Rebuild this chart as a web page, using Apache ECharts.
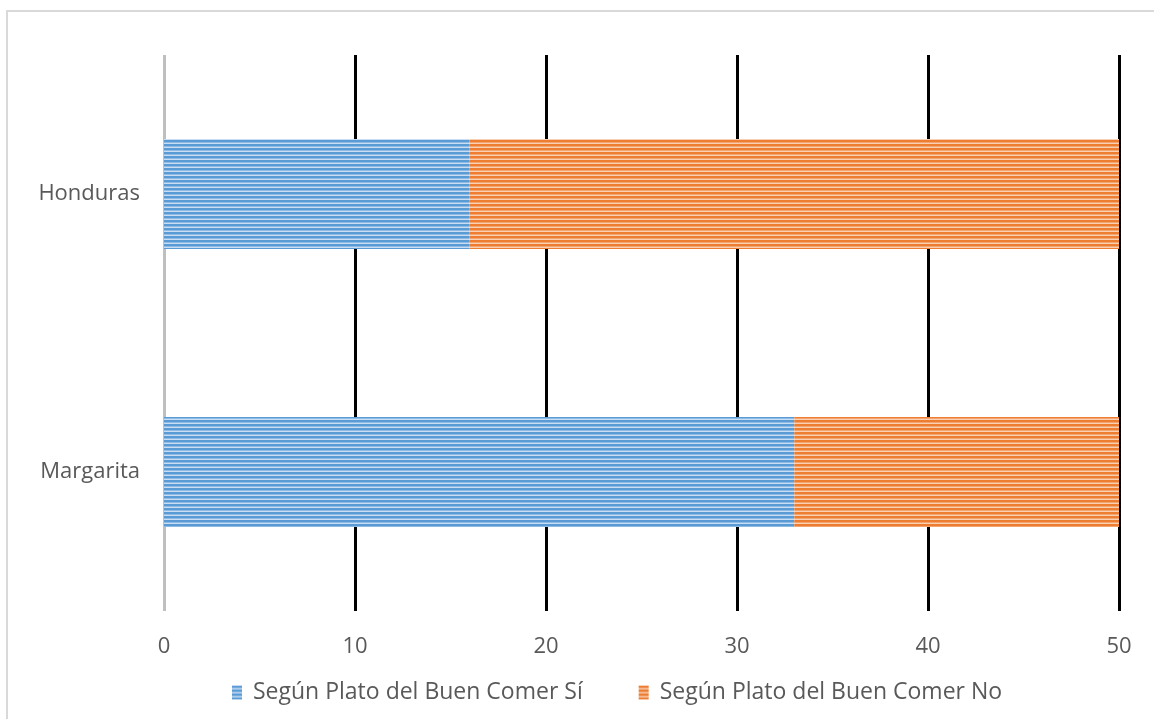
<!DOCTYPE html>
<html>
<head>
<meta charset="utf-8">
<script src="https://cdn.jsdelivr.net/npm/echarts@6/dist/echarts.min.js"></script>
<style>
  html, body { margin: 0; padding: 0; background: #fff; }
  #chart { width: 1154px; height: 719px; }
</style>
</head>
<body>
<div id="chart"></div>
<script>
// Categories and values
const categories = ['Honduras', 'Margarita'];
const seriesNames = ['Según Plato del Buen Comer Sí', 'Según Plato del Buen Comer No'];
const valuesSi = [16, 33];
const valuesNo = [34, 17];
const axisTicks = [0, 10, 20, 30, 40, 50];

// Horizontal striped fill, built as a repeating canvas pattern
function stripes(rows) {
  const c = document.createElement('canvas');
  c.width = 4;
  c.height = rows.length;
  const ctx = c.getContext('2d');
  rows.forEach((col, i) => {
    ctx.fillStyle = col;
    ctx.fillRect(0, i, 4, 1);
  });
  return { image: c, repeat: 'repeat' };
}
const bluePattern = stripes(['#5B9BD5', '#5B9BD5', '#8DBBE6', '#C9DEF3']);
const orangePattern = stripes(['#ED7D31', '#ED7D31', '#F3A46F', '#F9D0B4']);

const chart = echarts.init(document.getElementById('chart'), null, { renderer: 'canvas' });

const textColor = '#595959';
const font = '"Open Sans", "Liberation Sans", sans-serif';

chart.setOption({
  animation: false,
  backgroundColor: '#ffffff',
  graphic: [{
    type: 'rect',
    shape: { x: 7, y: 11, width: 1160, height: 720 },
    style: { fill: 'none', stroke: '#D9D9D9', lineWidth: 2 },
    silent: true,
    z: -10
  }],
  grid: { left: 164, right: 35, top: 55, bottom: 108, containLabel: false },
  legend: {
    data: seriesNames,
    bottom: 10,
    left: 227,
    itemWidth: 10,
    itemHeight: 14,
    itemGap: 56,
    icon: 'rect',
    textStyle: { color: textColor, fontSize: 23, fontFamily: font, padding: [0, 0, 0, 6] }
  },
  xAxis: {
    type: 'value',
    min: axisTicks[0],
    max: axisTicks[axisTicks.length - 1],
    interval: 10,
    axisLine: { show: false },
    axisTick: { show: false },
    axisLabel: { color: textColor, fontSize: 22, fontFamily: font, margin: 25 },
    splitLine: {
      show: true,
      lineStyle: {
        color: ['#BFBFBF', '#000000', '#000000', '#000000', '#000000', '#000000'],
        width: 3
      }
    }
  },
  yAxis: {
    type: 'category',
    data: categories,
    inverse: true,
    axisLine: { show: false },
    axisTick: { show: false },
    axisLabel: { color: textColor, fontSize: 22, fontFamily: font, margin: 24 }
  },
  series: [
    {
      name: seriesNames[0],
      type: 'bar',
      stack: 'total',
      barWidth: 110,
      data: valuesSi,
      itemStyle: { color: bluePattern }
    },
    {
      name: seriesNames[1],
      type: 'bar',
      stack: 'total',
      barWidth: 110,
      data: valuesNo,
      itemStyle: { color: orangePattern }
    }
  ]
});
</script>
</body>
</html>
